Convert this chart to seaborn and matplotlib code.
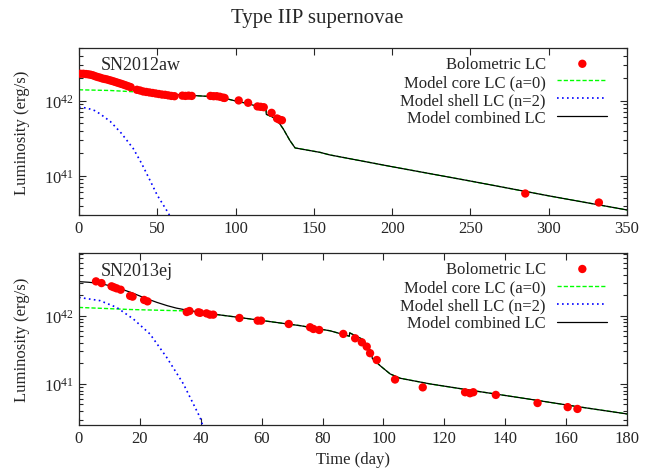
import numpy as np
import pandas as pd
import seaborn as sns
import matplotlib.pyplot as plt
from matplotlib.ticker import LogLocator, NullFormatter, MultipleLocator, FixedLocator, FixedFormatter

# ---- SN2012aw (luminosities in units of 1e42 erg/s) ----
aw_day = [1, 2.8, 4.5, 6, 7.5, 9, 10.5, 12, 13.5, 15, 16.5, 18, 19.5, 21, 22.5, 24,
          25.5, 27, 28.5, 30, 31.5, 33, 37, 39, 41, 43, 45, 47, 49, 51, 53, 55, 57,
          59, 61, 66, 68, 70, 72, 84, 86, 88, 90, 92, 93, 102, 108, 114, 116, 118,
          123, 126.5, 128, 129.6, 285, 332]
aw_lum = [2.29, 2.29, 2.27, 2.25, 2.22, 2.18, 2.12, 2.07, 2.03, 1.98, 1.95, 1.92, 1.88,
          1.84, 1.80, 1.76, 1.72, 1.68, 1.64, 1.60, 1.56, 1.52, 1.40, 1.37, 1.33, 1.31,
          1.29, 1.27, 1.25, 1.23, 1.21, 1.20, 1.18, 1.16, 1.15, 1.17, 1.16, 1.17, 1.16,
          1.16, 1.15, 1.15, 1.13, 1.10, 1.09, 1.01, 0.94, 0.84, 0.83, 0.82, 0.69, 0.58,
          0.56, 0.55, 0.058, 0.044]

aw_comb_day = [0, 5, 10, 15, 20, 25, 30, 35, 40, 45, 50, 60, 74, 84, 93, 102, 108, 113.5,
               119.5, 119.6, 124, 128, 130.5, 134.7, 138, 154, 160, 200, 250, 300, 350]
aw_comb_lum = [2.28, 2.25, 2.15, 2.02, 1.88, 1.75, 1.62, 1.48, 1.38, 1.31, 1.26, 1.21, 1.17,
               1.14, 1.08, 0.97, 0.92, 0.84, 0.75, 0.66, 0.60, 0.50, 0.42, 0.295, 0.235,
               0.205, 0.19, 0.132, 0.085, 0.054, 0.035]

aw_core_day = [0, 20, 40, 60, 74, 84, 93, 102, 108, 113.5, 119.5, 119.6, 124, 128, 130.5,
               134.7, 138, 154, 160, 200, 250, 300, 350]
aw_core_lum = [1.40, 1.37, 1.30, 1.21, 1.17, 1.14, 1.08, 0.97, 0.92, 0.84, 0.75, 0.66, 0.60,
               0.50, 0.42, 0.295, 0.235, 0.205, 0.19, 0.132, 0.085, 0.054, 0.035]

aw_shell_day = [0, 5, 10, 13.4, 20, 27, 34.7, 40, 45, 50, 57, 60]
aw_shell_lum = [0.82, 0.80, 0.74, 0.67, 0.53, 0.37, 0.23, 0.146, 0.09, 0.055, 0.032, 0.024]

# ---- SN2013ej ----
ej_day = [5.6, 7.4, 10.7, 11.5, 12.4, 13.7, 16.8, 17.6, 21.4, 22.5, 35.4, 36.3, 39.2, 39.8,
          41.9, 43, 44.1, 52.7, 58.7, 59.8, 68.9, 75.9, 77, 78.9, 86.8, 90.7, 92.9, 94.5,
          95.6, 97.8, 103.8, 112.9, 126.8, 128.4, 129.5, 136.9, 150.6, 160.5, 163.7]
ej_lum = [3.18, 3.0, 2.69, 2.6, 2.51, 2.40, 1.95, 1.90, 1.70, 1.62, 1.13, 1.17, 1.12, 1.10,
          1.08, 1.035, 1.035, 0.925, 0.845, 0.845, 0.755, 0.676, 0.638, 0.617, 0.54, 0.466,
          0.407, 0.352, 0.282, 0.224, 0.116, 0.089, 0.0755, 0.073, 0.0755, 0.069, 0.0525,
          0.0457, 0.043]

ej_comb_day = [0, 3, 6.9, 10, 14, 17.9, 21, 25.5, 29, 32, 36.5, 43, 50.7, 60, 72.6, 82.5,
               88.8, 88.9, 92.9, 95.0, 96.2, 96.3, 98.9, 102.2, 105.5, 115.3, 130, 147,
               163, 180]
ej_comb_lum = [3.15, 3.09, 2.97, 2.75, 2.45, 2.12, 1.86, 1.57, 1.40, 1.29, 1.18, 1.07, 0.966,
               0.85, 0.714, 0.60, 0.50, 0.56, 0.456, 0.344, 0.291, 0.238, 0.185, 0.14,
               0.121, 0.10, 0.079, 0.0607, 0.047, 0.0363]

ej_core_day = [0, 17, 36.5, 43, 50.7, 60, 72.6, 82.5, 88.8, 88.9, 92.9, 95.0, 96.2, 96.3,
               98.9, 102.2, 105.5, 115.3, 130, 147, 163, 180]
ej_core_lum = [1.32, 1.23, 1.17, 1.07, 0.966, 0.85, 0.714, 0.60, 0.50, 0.56, 0.456, 0.344,
               0.291, 0.238, 0.185, 0.14, 0.121, 0.10, 0.079, 0.0607, 0.047, 0.0363]

ej_shell_day = [0, 6.9, 12.4, 17.9, 23.3, 28.8, 34.3, 39.8, 41]
ej_shell_lum = [1.85, 1.66, 1.32, 0.89, 0.54, 0.245, 0.10, 0.032, 0.022]

sns.set_style("ticks")
plt.rcParams['font.family'] = ['Liberation Serif', 'DejaVu Serif']
plt.rcParams['mathtext.fontset'] = 'custom'
plt.rcParams['mathtext.rm'] = 'Liberation Serif'
plt.rcParams['mathtext.it'] = 'Liberation Serif:italic'

fig = plt.figure(figsize=(6.58, 4.77), dpi=100)
ax1 = fig.add_axes([0.120, 0.5472, 0.833, 0.3494])
ax2 = fig.add_axes([0.120, 0.1069, 0.833, 0.3600])

panels = [
    (ax1, "SN2012aw", aw_day, aw_lum, aw_core_day, aw_core_lum, aw_shell_day, aw_shell_lum,
     aw_comb_day, aw_comb_lum, 350, 50, (3e40, 5e42)),
    (ax2, "SN2013ej", ej_day, ej_lum, ej_core_day, ej_core_lum, ej_shell_day, ej_shell_lum,
     ej_comb_day, ej_comb_lum, 180, 20, (2.5e40, 8.2e42)),
]

for (ax, name, d, l, cd, cl, sd, sl, md, ml, xmax, xstep, ylim) in panels:
    obs = pd.DataFrame({"day": d, "L": np.array(l) * 1e42})
    sns.scatterplot(data=obs, x="day", y="L", ax=ax, color="#ff0000", s=36,
                    edgecolor="none", label="Bolometric LC", zorder=5)
    sns.lineplot(x=cd, y=np.array(cl) * 1e42, ax=ax, color="#00ff00", lw=1,
                 linestyle=(0, (3, 1.5)), estimator=None, sort=False,
                 label="Model core LC (a=0)")
    sns.lineplot(x=sd, y=np.array(sl) * 1e42, ax=ax, color="#0000ff", lw=1.2,
                 linestyle=(0, (1, 2)), estimator=None, sort=False,
                 label="Model shell LC (n=2)")
    sns.lineplot(x=md, y=np.array(ml) * 1e42, ax=ax, color="black", lw=0.9,
                 estimator=None, sort=False, label="Model combined LC")

    ax.set_yscale("log")
    ax.set_xlim(0, xmax)
    ax.set_ylim(*ylim)
    ax.xaxis.set_major_locator(MultipleLocator(xstep))
    ax.yaxis.set_major_locator(FixedLocator([1e41, 1e42]))
    ax.yaxis.set_major_formatter(FixedFormatter([r"$10^{41}$", r"$10^{42}$"]))
    ax.yaxis.set_minor_locator(LogLocator(base=10, subs=np.arange(2, 10), numticks=20))
    ax.yaxis.set_minor_formatter(NullFormatter())
    ax.tick_params(which="both", direction="in", top=True, right=True, labelsize=12)
    ax.tick_params(which="major", length=5, width=0.8)
    ax.tick_params(which="minor", length=2.8, width=0.8)
    for sp in ax.spines.values():
        sp.set_linewidth(0.9)
    ax.set_xlabel("")
    ax.set_ylabel("Luminosity (erg/s)", fontsize=12)
    ax.yaxis.set_label_coords(-0.09, 0.5)
    ax.text(0.04, 0.9, name, transform=ax.transAxes, fontsize=13, va="center", ha="left")

    handles, labels = ax.get_legend_handles_labels()
    ax.legend(handles, labels, loc="upper right", bbox_to_anchor=(0.964, 0.953),
              frameon=False, markerfirst=False, fontsize=12, handlelength=3.0,
              handletextpad=0.7, labelspacing=0.12, borderaxespad=0, borderpad=0,
              scatterpoints=1)

ax2.set_xlabel("Time (day)", fontsize=12)
fig.text(0.4826, 1 - 19 / 477, "Type IIP supernovae", ha="center", va="center", fontsize=15)

fig.savefig("out.png", dpi=100)
